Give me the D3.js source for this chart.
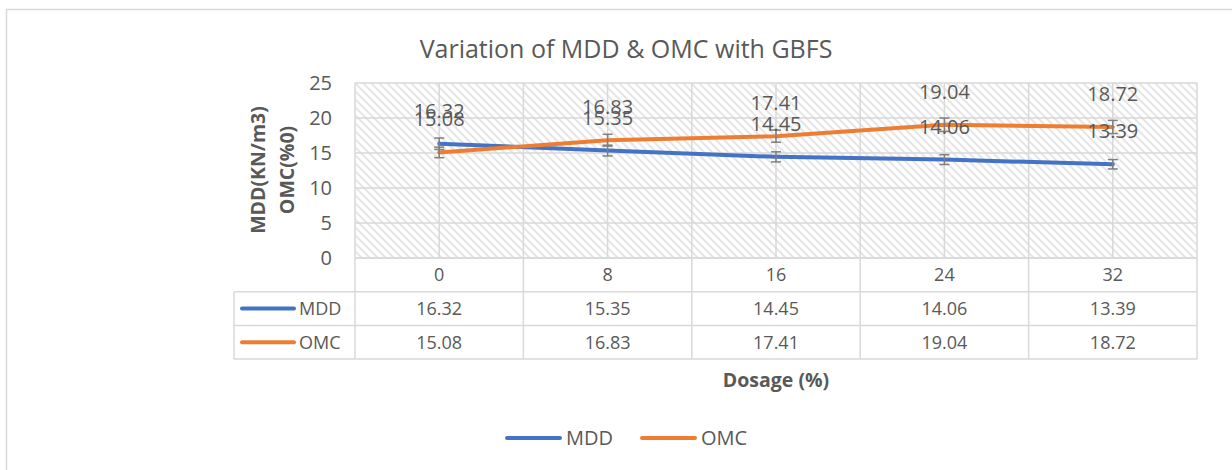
<!DOCTYPE html>
<html>
<head>
<meta charset="utf-8">
<script src="https://cdn.jsdelivr.net/npm/d3@7"></script>
<style>
  body { margin: 0; background: #fff; }
  text { font-family: "Open Sans", sans-serif; fill: #595959; }
</style>
</head>
<body>
<svg id="chart"></svg>
<script>
// chart data
const categories = ["0", "8", "16", "24", "32"];
const seriesNames = ["MDD", "OMC"];
const mddValues = [16.32, 15.35, 14.45, 14.06, 13.39];
const omcValues = [15.08, 16.83, 17.41, 19.04, 18.72];
const mddErrors = [0.82, 0.77, 0.72, 0.70, 0.67];
const omcErrors = [0.75, 0.84, 0.87, 0.95, 0.94];
const yTicks = [0, 5, 10, 15, 20, 25];

const colors = { MDD: "#4472C4", OMC: "#ED7D31" };

const W = 1232, H = 470;
const plot = { left: 355, right: 1197, top: 83, bottom: 258 };
const rowH = 33.7;

const svg = d3.select("#chart").attr("width", W).attr("height", H);

// outer border (only top/left visible)
svg.append("rect")
    .attr("x", 6.5).attr("y", 9.5)
    .attr("width", W + 20).attr("height", H + 20)
    .attr("fill", "#fff").attr("stroke", "#d9d9d9").attr("stroke-width", 1.5);

// hatch pattern for plot area
const defs = svg.append("defs");
const pat = defs.append("pattern")
    .attr("id", "hatch")
    .attr("patternUnits", "userSpaceOnUse")
    .attr("width", 8).attr("height", 8);
pat.append("rect").attr("width", 8).attr("height", 8).attr("fill", "#fff");
pat.append("path")
    .attr("d", "M-2,6 L2,10 M0,0 L8,8 M6,-2 L10,2")
    .attr("stroke", "#e6e6e6").attr("stroke-width", 2);

const xScale = d3.scaleBand()
    .domain(categories)
    .range([plot.left, plot.right])
    .padding(0);
const bw = xScale.bandwidth();
const cx = d => xScale(d) + bw / 2;

const yScale = d3.scaleLinear()
    .domain([0, 25])
    .range([plot.bottom, plot.top]);

// plot background
svg.append("rect")
    .attr("x", plot.left).attr("y", plot.top)
    .attr("width", plot.right - plot.left).attr("height", plot.bottom - plot.top)
    .attr("fill", "url(#hatch)");

// gridlines
const grid = svg.append("g").attr("stroke", "#d9d9d9").attr("stroke-width", 1.5);
grid.selectAll(".hgrid")
    .data(yTicks)
    .enter().append("line")
    .attr("x1", plot.left).attr("x2", plot.right)
    .attr("y1", d => yScale(d)).attr("y2", d => yScale(d));
let vlines = categories.map(c => xScale(c)).concat([plot.right]).concat(categories.map(cx));
grid.selectAll(".vgrid")
    .data(vlines)
    .enter().append("line")
    .attr("x1", d => d).attr("x2", d => d)
    .attr("y1", plot.top).attr("y2", plot.bottom);

// y axis
const yAxis = d3.axisLeft(yScale).tickValues(yTicks).tickSize(0).tickPadding(23);
const yAxisG = svg.append("g")
    .attr("transform", `translate(${plot.left},0)`)
    .call(yAxis);
yAxisG.select(".domain").remove();
yAxisG.selectAll("text")
    .style("font-family", "Open Sans, sans-serif")
    .style("font-size", "20px")
    .attr("fill", "#595959");

// y axis title
const yTitle = svg.append("text")
    .attr("transform", "translate(265,170) rotate(-90)")
    .attr("text-anchor", "middle")
    .style("font-size", "19.5px")
    .style("font-weight", "bold");
yTitle.append("tspan").attr("x", 0).attr("dy", 0).text("MDD(KN/m3)");
yTitle.append("tspan").attr("x", 0).attr("dy", 29).text("OMC(%0)");

// title
svg.append("text")
    .attr("x", 626).attr("y", 58)
    .attr("text-anchor", "middle")
    .style("font-size", "25px")
    .text("Variation of MDD & OMC with GBFS");

const series = [
    { name: "MDD", values: mddValues, errors: mddErrors },
    { name: "OMC", values: omcValues, errors: omcErrors }
];

const line = d3.line()
    .x((d, i) => cx(categories[i]))
    .y(d => yScale(d));

series.forEach(s => {
    svg.append("path")
        .attr("d", line(s.values))
        .attr("fill", "none")
        .attr("stroke", colors[s.name])
        .attr("stroke-width", 4)
        .attr("stroke-linecap", "round")
        .attr("stroke-linejoin", "round");
});

// error bars
series.forEach(s => {
    const g = svg.append("g").attr("stroke", "#7f7f7f").attr("stroke-width", 1.5);
    s.values.forEach((v, i) => {
        const x = cx(categories[i]);
        const y1 = yScale(v + s.errors[i]), y2 = yScale(v - s.errors[i]);
        g.append("line").attr("x1", x).attr("x2", x).attr("y1", y1).attr("y2", y2);
        g.append("line").attr("x1", x - 5).attr("x2", x + 5).attr("y1", y1).attr("y2", y1);
        g.append("line").attr("x1", x - 5).attr("x2", x + 5).attr("y1", y2).attr("y2", y2);
    });
});

// data labels
series.forEach(s => {
    svg.selectAll(".lbl-" + s.name)
        .data(s.values)
        .enter().append("text")
        .attr("x", (d, i) => cx(categories[i]))
        .attr("y", d => yScale(d) - 26)
        .attr("text-anchor", "middle")
        .style("font-size", "20px")
        .text(d => d.toFixed(2));
});

// data table
const tbl = svg.append("g");
const tableLeft = 234;
const tLines = tbl.append("g").attr("stroke", "#d9d9d9").attr("stroke-width", 1.5);
// horizontal lines
tLines.append("line").attr("x1", plot.left).attr("x2", plot.right)
    .attr("y1", plot.bottom).attr("y2", plot.bottom);
[1, 2, 3].forEach(r => {
    tLines.append("line").attr("x1", tableLeft).attr("x2", plot.right)
        .attr("y1", plot.bottom + r * rowH).attr("y2", plot.bottom + r * rowH);
});
// vertical lines
tLines.append("line").attr("x1", tableLeft).attr("x2", tableLeft)
    .attr("y1", plot.bottom + rowH).attr("y2", plot.bottom + 3 * rowH);
categories.map(c => xScale(c)).concat([plot.right]).forEach(x => {
    tLines.append("line").attr("x1", x).attr("x2", x)
        .attr("y1", plot.bottom).attr("y2", plot.bottom + 3 * rowH);
});

tbl.selectAll(".hdr")
    .data(categories)
    .enter().append("text")
    .attr("x", d => cx(d))
    .attr("y", plot.bottom + rowH / 2)
    .attr("dy", "0.35em")
    .attr("text-anchor", "middle")
    .style("font-size", "18px")
    .text(d => d);

series.forEach((s, r) => {
    const yMid = plot.bottom + (r + 1.5) * rowH;
    tbl.append("line")
        .attr("x1", 242).attr("x2", 294)
        .attr("y1", yMid).attr("y2", yMid)
        .attr("stroke", colors[s.name]).attr("stroke-width", 4)
        .attr("stroke-linecap", "round");
    tbl.append("text")
        .attr("x", 299).attr("y", yMid).attr("dy", "0.35em")
        .style("font-size", "18px")
        .text(s.name);
    tbl.selectAll(".cell-" + s.name)
        .data(s.values)
        .enter().append("text")
        .attr("x", (d, i) => cx(categories[i]))
        .attr("y", yMid).attr("dy", "0.35em")
        .attr("text-anchor", "middle")
        .style("font-size", "18px")
        .text(d => d.toFixed(2));
});

// x axis title
svg.append("text")
    .attr("x", 776).attr("y", 387)
    .attr("text-anchor", "middle")
    .style("font-size", "19.5px")
    .style("font-weight", "bold")
    .text("Dosage (%)");

// legend
const legendX = [507, 642];
seriesNames.forEach((n, i) => {
    const g = svg.append("g").attr("transform", `translate(${legendX[i]},438)`);
    g.append("line").attr("x1", 0).attr("x2", 53)
        .attr("stroke", colors[n]).attr("stroke-width", 4).attr("stroke-linecap", "round");
    g.append("text").attr("x", 59).attr("dy", "0.35em")
        .style("font-size", "20px")
        .text(n);
});
</script>
</body>
</html>
